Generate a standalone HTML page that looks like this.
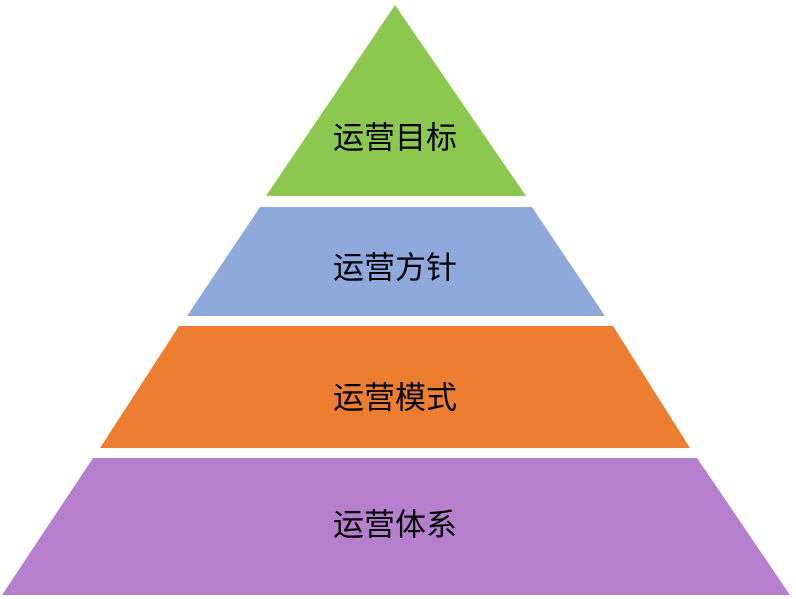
<!DOCTYPE html>
<html><head><meta charset="utf-8"><style>
html,body{margin:0;padding:0;background:#fff;width:796px;height:599px;overflow:hidden}
svg{display:block}
text{font-family:"Liberation Sans","Noto Sans CJK SC",sans-serif;font-size:31px;fill:#000;text-anchor:middle;dominant-baseline:central}
</style></head><body>
<svg width="796" height="599" viewBox="0 0 796 599">
<polygon points="395,5 526,196 266,196" fill="#8cc750"/>
<polygon points="260,207 532,207 605,316 187,316" fill="#8fa9dc"/>
<polygon points="179,326 613,326 690,448 100,448" fill="#ed7d31"/>
<polygon points="93,458 697,458 790,595 2,595" fill="#b57fce"/>
<text x="395" y="138">运营目标</text>
<text x="395" y="268">运营方针</text>
<text x="395" y="398">运营模式</text>
<text x="395" y="525">运营体系</text>
</svg>
</body></html>
